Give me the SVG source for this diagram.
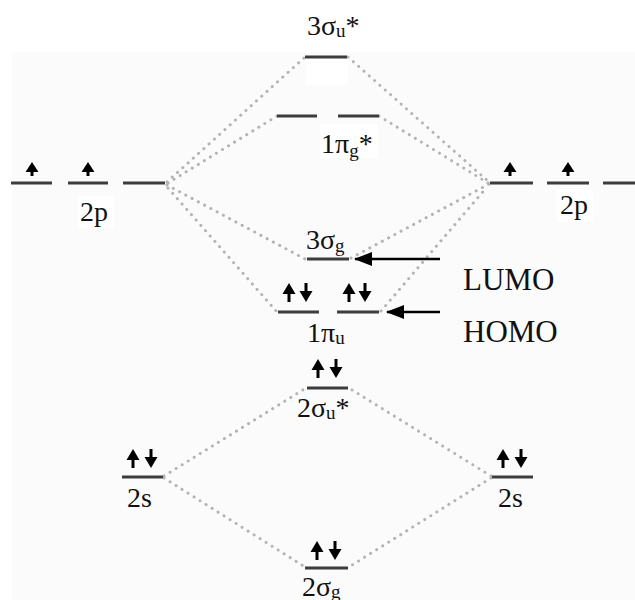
<svg xmlns="http://www.w3.org/2000/svg" width="635" height="600" viewBox="0 0 635 600">
  <style>
    .lvl { stroke: #3c3c3c; stroke-width: 3; fill: none; }
    .corr { stroke: #b4b4b4; stroke-width: 3; stroke-linecap: round; stroke-dasharray: 0.1 7; fill: none; }
    .lbl { font-family: "Liberation Serif", "Times New Roman", serif; font-size: 28px; fill: #111; }
    .big { font-size: 31px; }
    .sub { font-size: 19px; }
    .ptr { stroke: #000; stroke-width: 2.5; fill: none; }
    .spin { fill: #000; }
  </style>
  <defs>
    <!-- electron spin arrows, origin at the top centre -->
    <path id="up" class="spin" d="M0,0 L6.5,11 L1.5,11 L1.5,19 L-1.5,19 L-1.5,11 L-6.5,11 Z"/>
    <path id="down" class="spin" d="M0,19 L6.5,8 L1.5,8 L1.5,0 L-1.5,0 L-1.5,8 L-6.5,8 Z"/>
    <path id="upShort" class="spin" d="M0,0 L6.5,10 L1.5,10 L1.5,14 L-1.5,14 L-1.5,10 L-6.5,10 Z"/>
    <marker id="head" viewBox="0 0 18 14" refX="17" refY="7" markerWidth="18" markerHeight="14" markerUnits="userSpaceOnUse" orient="auto">
      <path d="M0,0 L18,7 L0,14 Z" fill="#000"/>
    </marker>
  </defs>

  <rect x="0" y="0" width="635" height="600" fill="#ffffff"/>
  <rect x="12" y="52" width="623" height="548" fill="#fbfbfb"/>

  <!-- correlation lines between atomic and molecular orbitals -->
  <g id="connectors">
    <line class="corr" x1="167" y1="182" x2="305" y2="57"/>
    <line class="corr" x1="168" y1="183" x2="277" y2="116"/>
    <line class="corr" x1="167" y1="185" x2="305" y2="259"/>
    <line class="corr" x1="168" y1="188" x2="277" y2="312"/>
    <line class="corr" x1="348" y1="57" x2="489" y2="182"/>
    <line class="corr" x1="379" y1="116" x2="488" y2="183"/>
    <line class="corr" x1="351" y1="258" x2="489" y2="184"/>
    <line class="corr" x1="381" y1="311" x2="487" y2="187"/>
    <line class="corr" x1="164" y1="476" x2="306" y2="388"/>
    <line class="corr" x1="164" y1="478" x2="305" y2="567"/>
    <line class="corr" x1="491" y1="476" x2="349" y2="388"/>
    <line class="corr" x1="491" y1="478" x2="349" y2="567"/>
  </g>

  <!-- left 2p atomic orbitals -->
  <g id="p2-left">
    <line class="lvl" x1="11" y1="183" x2="52" y2="183"/>
    <line class="lvl" x1="68" y1="183" x2="108" y2="183"/>
    <line class="lvl" x1="123" y1="183" x2="165" y2="183"/>
    <use href="#upShort" x="32" y="162"/>
    <use href="#upShort" x="88" y="162"/>
    <rect x="78" y="196" width="36" height="32" fill="#fff"/>
    <text class="lbl" x="80" y="221">2p</text>
  </g>

  <!-- right 2p atomic orbitals -->
  <g id="p2-right">
    <line class="lvl" x1="490" y1="183" x2="533" y2="183"/>
    <line class="lvl" x1="547" y1="183" x2="589" y2="183"/>
    <line class="lvl" x1="603" y1="183" x2="635" y2="183"/>
    <use href="#upShort" x="510" y="162"/>
    <use href="#upShort" x="568" y="162"/>
    <rect x="557" y="190" width="36" height="32" fill="#fff"/>
    <text class="lbl" x="560" y="214">2p</text>
  </g>

  <!-- 3 sigma u antibonding -->
  <g id="sigma3u">
    <rect x="306" y="59" width="42" height="26" fill="#fff"/>
    <line class="lvl" x1="305" y1="57" x2="347" y2="57"/>
    <text class="lbl" x="307" y="35">3σ<tspan class="sub" dy="2">u</tspan><tspan dy="-2">*</tspan></text>
  </g>

  <!-- 1 pi g antibonding -->
  <g id="pi1g">
    <line class="lvl" x1="277" y1="116" x2="317" y2="116"/>
    <line class="lvl" x1="338" y1="116" x2="379" y2="116"/>
    <rect x="320" y="124" width="58" height="34" fill="#fff"/>
    <text class="lbl" x="321" y="153">1π<tspan class="sub" dy="4">g</tspan><tspan dy="-4">*</tspan></text>
  </g>

  <!-- 3 sigma g (LUMO) -->
  <g id="sigma3g">
    <text class="lbl" x="306" y="249">3σ<tspan class="sub" dy="3">g</tspan></text>
    <line class="lvl" x1="307" y1="259" x2="349" y2="259"/>
  </g>

  <!-- 1 pi u (HOMO) -->
  <g id="pi1u">
    <use href="#up" x="289" y="283"/>
    <use href="#down" x="306" y="283"/>
    <use href="#up" x="349" y="283"/>
    <use href="#down" x="365" y="283"/>
    <line class="lvl" x1="278" y1="312" x2="319" y2="312"/>
    <line class="lvl" x1="337" y1="312" x2="379" y2="312"/>
    <text class="lbl" x="307" y="342">1π<tspan class="sub" dy="2">u</tspan></text>
  </g>

  <!-- frontier orbital pointers -->
  <g id="lumo">
    <line class="ptr" x1="440" y1="259" x2="355" y2="259" marker-end="url(#head)"/>
    <text class="lbl big" x="463" y="290">LUMO</text>
  </g>
  <g id="homo">
    <line class="ptr" x1="440" y1="312" x2="387" y2="312" marker-end="url(#head)"/>
    <text class="lbl big" x="463" y="342">HOMO</text>
  </g>

  <!-- 2 sigma u antibonding -->
  <g id="sigma2u">
    <use href="#up" x="318" y="359"/>
    <use href="#down" x="336" y="359"/>
    <line class="lvl" x1="307" y1="388" x2="348" y2="388"/>
    <text class="lbl" x="297" y="417">2σ<tspan class="sub" dy="2">u</tspan><tspan dy="-2">*</tspan></text>
  </g>

  <!-- left 2s -->
  <g id="s2-left">
    <use href="#up" x="133" y="449"/>
    <use href="#down" x="151" y="449"/>
    <line class="lvl" x1="122" y1="477" x2="163" y2="477"/>
    <text class="lbl" x="127" y="507">2s</text>
  </g>

  <!-- right 2s -->
  <g id="s2-right">
    <use href="#up" x="503" y="449"/>
    <use href="#down" x="521" y="449"/>
    <line class="lvl" x1="492" y1="477" x2="533" y2="477"/>
    <text class="lbl" x="498" y="507">2s</text>
  </g>

  <!-- 2 sigma g bonding -->
  <g id="sigma2g">
    <use href="#up" x="317" y="541"/>
    <use href="#down" x="335" y="541"/>
    <line class="lvl" x1="305" y1="568" x2="348" y2="568"/>
    <text class="lbl" x="302" y="596">2σ<tspan class="sub" dy="2">g</tspan></text>
  </g>
</svg>
